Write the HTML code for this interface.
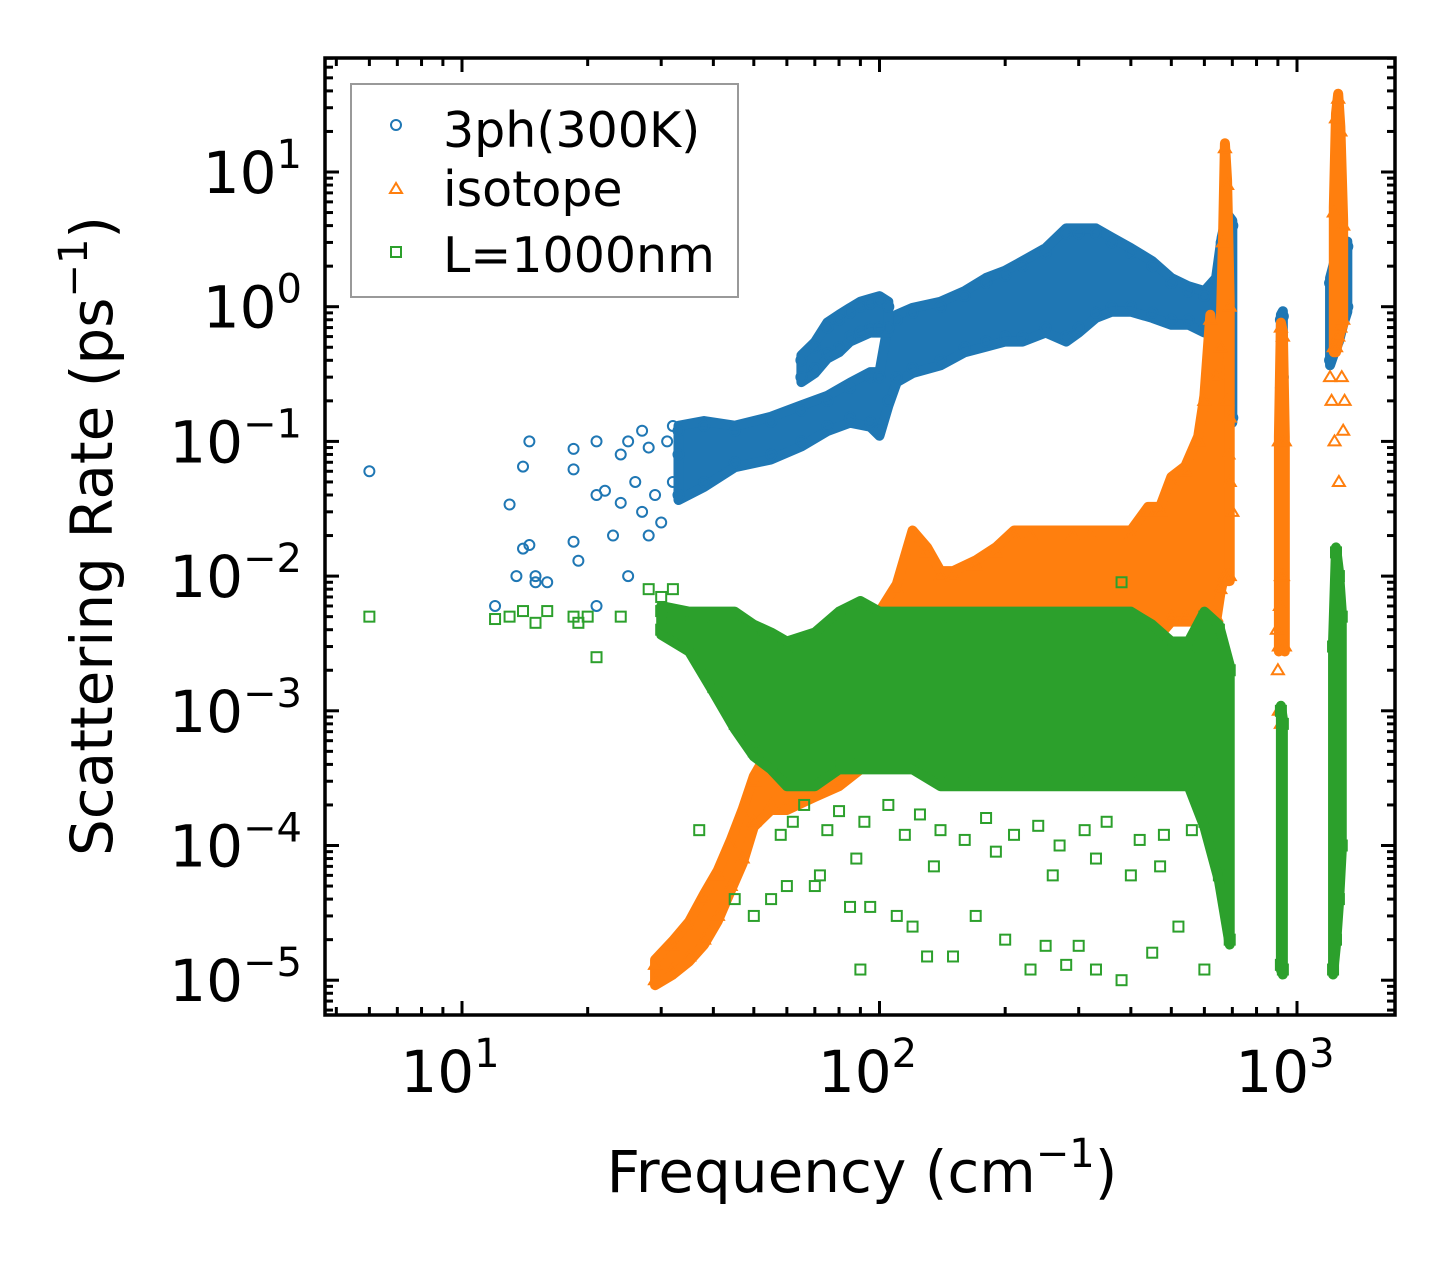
<!DOCTYPE html>
<html><head><meta charset="utf-8"><style>
html,body{margin:0;padding:0;background:#fff;}
svg{display:block;font-family:"DejaVu Sans","Liberation Sans",sans-serif;}
</style></head><body>
<svg id="chart" width="1455" height="1265" viewBox="0 0 1455 1265">
<defs><clipPath id="pc"><rect x="325" y="58" width="1070" height="957"/></clipPath></defs>
<rect x="0" y="0" width="1455" height="1265" fill="#fff"/>
<g id="plot" clip-path="url(#pc)"></g>
<g id="axes"></g>
<text x="862" y="1192" font-size="58" text-anchor="middle">Frequency (cm<tspan dy="-25" font-size="40">−1</tspan><tspan dy="25">)</tspan></text>
<text transform="translate(112,536) rotate(-90)" font-size="58" text-anchor="middle">Scattering Rate (ps<tspan dy="-25" font-size="40">−1</tspan><tspan dy="25">)</tspan></text>
<g>
<rect x="351" y="84" width="387" height="213" fill="#fff" stroke="#999" stroke-width="2"/>
<circle cx="396" cy="125" r="5" fill="none" stroke="#1f77b4" stroke-width="2"/>
<text x="443" y="147" font-size="49">3ph(300K)</text>
<polygon points="396,183 390,193 402,193" fill="none" stroke="#ff7f0e" stroke-width="2"/>
<text x="443" y="206" font-size="49">isotope</text>
<rect x="391" y="247" width="10" height="10" fill="none" stroke="#2ca02c" stroke-width="2"/>
<text x="443" y="272" font-size="49">L=1000nm</text>
</g>
</svg>
<script>
// ---- data ----
const blueLowF=[33,38,45,55,65,75,85,95,100,105,110,120,140,160,180,200,220,250,280,300,330,360,400,450,500,550,600,640,660,680,700];
const blueLowLo=[0.04,0.05,0.07,0.08,0.1,0.13,0.15,0.14,0.12,0.2,0.3,0.35,0.4,0.5,0.55,0.6,0.6,0.7,0.6,0.7,0.9,1.0,1.0,0.9,0.8,0.8,0.7,0.8,1.2,0.15,0.15];
const blueLowHi=[0.12,0.13,0.12,0.14,0.17,0.2,0.25,0.3,0.3,0.7,0.8,0.9,1.0,1.2,1.5,1.7,2.0,2.5,3.5,3.5,3.5,3.0,2.5,2.0,1.5,1.3,1.2,1.5,3.0,4.5,4.0];
const blueUpF=[65,70,75,80,85,90,95,100,105];
const blueUpLo=[0.3,0.35,0.45,0.5,0.6,0.65,0.7,0.7,0.7];
const blueUpHi=[0.4,0.5,0.7,0.8,0.9,1.0,1.05,1.1,1.0];
const blueColF=[915,925,1200,1230,1260,1290,1320];
const blueColLo=[0.25,0.3,0.4,0.5,0.6,0.8,1.0];
const blueColHi=[0.8,0.85,1.5,2.0,2.5,2.5,2.8];
const blueX=[6,12,13,13.5,14,14,14.5,14.5,15,15,16,18.5,18.5,18.5,19,21,21,21,22,23,24,24,25,25,26,27,27,28,28,29,30,31,32,32,33];
const blueY=[0.06,0.006,0.034,0.01,0.065,0.016,0.1,0.017,0.01,0.009,0.009,0.088,0.062,0.018,0.013,0.1,0.04,0.006,0.043,0.02,0.035,0.08,0.1,0.01,0.05,0.12,0.03,0.09,0.02,0.04,0.025,0.1,0.13,0.05,0.08];
const orF=[29,32,35,38,41,44,47,50,55,60,70,80,90,100,110,120,130,140,150,170,190,210,230,260,290,320,360,400,440,470,500,540,580,600,620,640,655,665,672,680,690];
const orLo=[1e-5,1.2e-5,1.5e-5,2e-5,3e-5,5e-5,8e-5,1.5e-4,2e-4,2e-4,2.5e-4,3e-4,4e-4,5e-4,6e-4,8e-4,1e-3,1.5e-3,2e-3,2e-3,2.5e-3,3e-3,3e-3,3e-3,4e-3,4e-3,4e-3,4e-3,4e-3,4e-3,5e-3,5e-3,5e-3,5e-3,5e-3,5e-3,8e-3,0.01,0.01,0.01,0.01];
const orHi=[1.3e-5,1.8e-5,2.5e-5,4e-5,6e-5,1e-4,1.7e-4,3e-4,5e-4,6e-4,8e-4,1e-3,3e-3,5e-3,8e-3,0.02,0.015,0.01,0.01,0.012,0.015,0.02,0.02,0.02,0.02,0.02,0.02,0.02,0.03,0.03,0.05,0.06,0.1,0.2,0.8,0.3,0.5,3,15,8,1];
const orColF=[905,915,925,935];
const orColLo=[0.003,0.01,0.01,0.003];
const orColHi=[0.1,0.7,0.6,0.1];
const orCol2F=[1225,1240,1255,1270,1290];
const orCol2Lo=[0.5,0.5,0.6,0.7,0.8];
const orCol2Hi=[5,25,35,20,4];
const orX=[680,690,685,690,700,895,900,905,910,915,1200,1210,1230,1260,1280,1290,1300];
const orY=[0.2,0.15,0.08,0.05,0.03,0.004,0.002,0.001,0.006,0.0008,0.3,0.2,0.1,0.05,0.3,0.12,0.2];
const grF=[30,35,40,45,50,55,60,70,80,90,100,120,140,160,200,250,300,350,400,450,500,550,600,650,690];
const grLo=[4e-3,3e-3,1.5e-3,8e-4,5e-4,4e-4,3e-4,3e-4,4e-4,4e-4,4e-4,4e-4,3e-4,3e-4,3e-4,3e-4,3e-4,3e-4,3e-4,3e-4,3e-4,3e-4,1.5e-4,6e-5,2e-5];
const grHi=[5.5e-3,5e-3,5e-3,5e-3,4e-3,3.5e-3,3e-3,3.5e-3,5e-3,6e-3,5e-3,5e-3,5e-3,5e-3,5e-3,5e-3,5e-3,5e-3,5e-3,4e-3,3e-3,3e-3,5e-3,4e-3,2e-3];
const grColF=[915,925];
const grColLo=[1.3e-5,1.2e-5];
const grColHi=[1e-3,8e-4];
const grCol2F=[1220,1240,1260,1280];
const grCol2Lo=[1.2e-5,2e-5,4e-5,1e-4];
const grCol2Hi=[3e-3,0.015,0.01,5e-3];
const grX=[6,12,13,14,15,16,18.5,19,20,21,24,28,30,32,37,45,50,55,70,85,90,95,130,150,170,200,230,250,280,300,330,380,450,520,600,380,120,110,
  58,62,66,75,80,92,105,115,125,140,160,180,210,240,270,310,350,420,480,560,60,72,88,135,190,260,330,400,470];
const grY=[5e-3,4.8e-3,5e-3,5.5e-3,4.5e-3,5.5e-3,5e-3,4.5e-3,5e-3,2.5e-3,5e-3,8e-3,7e-3,8e-3,1.3e-4,4e-5,3e-5,4e-5,5e-5,3.5e-5,1.2e-5,3.5e-5,1.5e-5,1.5e-5,3e-5,2e-5,1.2e-5,1.8e-5,1.3e-5,1.8e-5,1.2e-5,1e-5,1.6e-5,2.5e-5,1.2e-5,9e-3,2.5e-5,3e-5,
  1.2e-4,1.5e-4,2e-4,1.3e-4,1.8e-4,1.5e-4,2e-4,1.2e-4,1.7e-4,1.3e-4,1.1e-4,1.6e-4,1.2e-4,1.4e-4,1e-4,1.3e-4,1.5e-4,1.1e-4,1.2e-4,1.3e-4,5e-5,6e-5,8e-5,7e-5,9e-5,6e-5,8e-5,6e-5,7e-5];
const xTickVals=[10,100,1000];
const xTickLabels=["1","2","3"];
const yTickVals=[1e1,1e0,1e-1,1e-2,1e-3,1e-4,1e-5];
const yTickLabels=["1","0","−1","−2","−3","−4","−5"];

// ---- axes ----
const L=325,R=1395,T=58,B=1015;
const X0=462,DX=417.5,Y0=172,DY=134.7;
const sx=v=>X0+(Math.log10(v)-1)*DX;
const sy=v=>Y0-(Math.log10(v)-1)*DY;
const NS="http://www.w3.org/2000/svg";
const plot=document.getElementById('plot'), axes=document.getElementById('axes');
function mk(tag,attrs,parent){const e=document.createElementNS(NS,tag);for(const k in attrs)e.setAttribute(k,attrs[k]);parent.appendChild(e);return e;}
const COL={b:"#1f77b4",o:"#ff7f0e",g:"#2ca02c"};
function marker(kind,x,y,g){
  let e;
  if(kind==='b') e=mk('circle',{cx:x,cy:y,r:5,fill:'none',stroke:COL.b,'stroke-width':2},g);
  else if(kind==='o') e=mk('polygon',{points:`${x},${y-6} ${x-6},${y+4} ${x+6},${y+4}`,fill:'none',stroke:COL.o,'stroke-width':2},g);
  else e=mk('rect',{x:x-5,y:y-5,width:10,height:10,fill:'none',stroke:COL.g,'stroke-width':2},g);
  return e;
}
function band(kind,F,Lo,Hi,name){
  const g=mk('g',{},plot);
  
  
  let pts=[];
  for(let i=0;i<F.length;i++)pts.push(sx(F[i])+','+(sy(Hi[i])-5));
  for(let i=F.length-1;i>=0;i--)pts.push(sx(F[i])+','+(sy(Lo[i])+5));
  const p=mk('polygon',{points:pts.join(' '),fill:COL[kind],stroke:COL[kind],'stroke-width':10,'stroke-linejoin':'round'},g);
  
  
  for(let i=0;i<F.length;i++){
    const m1=marker(kind,sx(F[i]),sy(Lo[i]),g);
    
    
    const m2=marker(kind,sx(F[i]),sy(Hi[i]),g);
    
    
  }
}
function scatter(kind,X,Y,name){
  const g=mk('g',{},plot);
  
  
  for(let i=0;i<X.length;i++){
    const m=marker(kind,sx(X[i]),sy(Y[i]),g);
    
    
  }
}
band('b',blueLowF,blueLowLo,blueLowHi,'series-3ph-band');
band('b',blueUpF,blueUpLo,blueUpHi,'series-3ph-upper-branch');
band('b',blueColF.slice(0,2),blueColLo.slice(0,2),blueColHi.slice(0,2),'series-3ph-920');
band('b',blueColF.slice(2),blueColLo.slice(2),blueColHi.slice(2),'series-3ph-1250');
scatter('b',blueX,blueY,'series-3ph-scatter');
band('o',orF,orLo,orHi,'series-isotope-band');
band('o',orColF,orColLo,orColHi,'series-isotope-920');
band('o',orCol2F,orCol2Lo,orCol2Hi,'series-isotope-1250');
scatter('o',orX,orY,'series-isotope-scatter');
band('g',grF,grLo,grHi,'series-boundary-band');
band('g',grColF,grColLo,grColHi,'series-boundary-920');
band('g',grCol2F,grCol2Lo,grCol2Hi,'series-boundary-1250');
scatter('g',grX,grY,'series-boundary-scatter');

// frame
const fr=mk('rect',{x:L,y:T,width:R-L,height:B-T,fill:'none',stroke:'#000','stroke-width':3.5},axes);


function tick(x1,y1,x2,y2,name){const t=mk('line',{x1,y1,x2,y2,stroke:'#000','stroke-width':3},axes);}
for(let d=0;d<=3;d++){
  for(let k=1;k<10;k++){
    const v=Math.pow(10,d)*k, x=sx(v);
    if(x<L||x>R)continue;
    const len=k===1?14:8;
    tick(x,B,x,B-len,'x-tick');
    tick(x,T,x,T+len,'x-tick-top');
  }
}
xTickVals.forEach((v,i)=>{
  const t=mk('text',{x:sx(v)-12,y:1092,'font-size':58,'text-anchor':'middle'},axes);
  t.textContent='10';
  const s=mk('tspan',{dy:-25,'font-size':40},t);s.textContent=xTickLabels[i];
  
  
});
for(let d=-6;d<=1;d++){
  for(let k=1;k<10;k++){
    const v=Math.pow(10,d)*k, y=sy(v);
    if(y<T||y>B)continue;
    const len=k===1?14:8;
    tick(L,y,L+len,y,'y-tick');
    tick(R,y,R-len,y,'y-tick-right');
  }
}
yTickVals.forEach((v,i)=>{
  const t=mk('text',{x:302,y:sy(v)+21,'font-size':58,'text-anchor':'end'},axes);
  t.textContent='10';
  const s=mk('tspan',{dy:-25,'font-size':40},t);s.textContent=yTickLabels[i];
  
  
});
</script>
</body></html>
